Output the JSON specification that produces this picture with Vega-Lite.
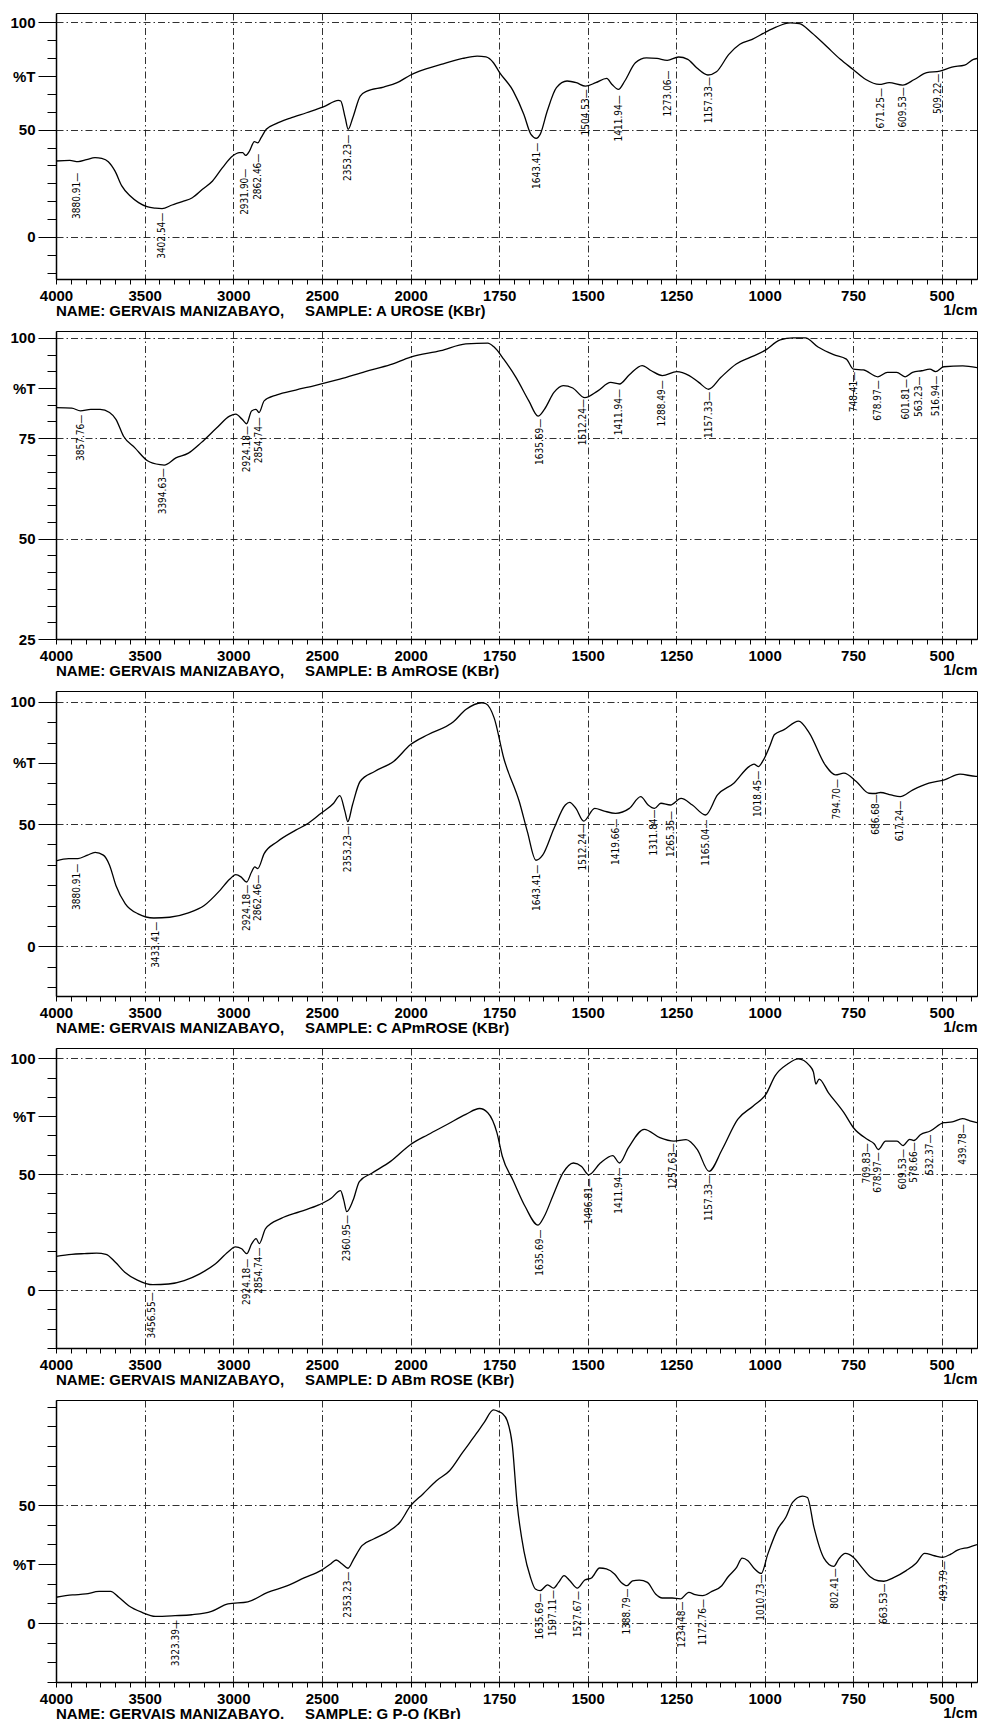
{
"$schema": "https://vega.github.io/schema/vega-lite/v6.json",
"padding": {"left": 9, "top": 12, "right": 0, "bottom": 0},
"background": "white",
"spacing": 52,
"bounds": "flush",
"config": {
 "view": {"stroke": "#000", "strokeWidth": 1},
 "axis": {"domainColor": "#000", "domainWidth": 1.5, "tickColor": "#000", "tickWidth": 1, "labelColor": "#000", "labelFont": "Liberation Sans", "labelFontSize": 15, "labelFontWeight": "bold", "titleFont": "Liberation Sans", "titleFontSize": 15, "titleFontWeight": "bold", "titleColor": "#000", "gridColor": "#1a1a1a", "gridDash": [7,3,1.5,3], "gridWidth": 0.9, "labelOverlap": false, "labelFlush": false, "labelBound": false}
},
"datasets": {
"spectra": [
{"p":1,"wn":4000,"t":35.4},{"p":1,"wn":3922,"t":35.7},{"p":1,"wn":3875,"t":35.1},{"p":1,"wn":3828,"t":36},{"p":1,"wn":3780,"t":37},{"p":1,"wn":3742,"t":36.6},{"p":1,"wn":3705,"t":35.1},{"p":1,"wn":3667,"t":30.7},{"p":1,"wn":3629,"t":23.8},{"p":1,"wn":3581,"t":19.1},{"p":1,"wn":3534,"t":16},{"p":1,"wn":3487,"t":14.1},{"p":1,"wn":3439,"t":13.4},{"p":1,"wn":3402,"t":13.2},{"p":1,"wn":3345,"t":14.9},{"p":1,"wn":3288,"t":16.5},{"p":1,"wn":3231,"t":18.3},{"p":1,"wn":3174,"t":22.2},{"p":1,"wn":3117,"t":26.1},{"p":1,"wn":3061,"t":32.3},{"p":1,"wn":3004,"t":37.7},{"p":1,"wn":2966,"t":39.3},{"p":1,"wn":2947,"t":39.3},{"p":1,"wn":2930,"t":38},{"p":1,"wn":2909,"t":40},{"p":1,"wn":2881,"t":44.4},{"p":1,"wn":2862,"t":43.9},{"p":1,"wn":2843,"t":46.3},{"p":1,"wn":2814,"t":50.2},{"p":1,"wn":2758,"t":52.8},{"p":1,"wn":2682,"t":55.3},{"p":1,"wn":2587,"t":57.9},{"p":1,"wn":2492,"t":60.6},{"p":1,"wn":2407,"t":63.7},{"p":1,"wn":2394,"t":63.4},{"p":1,"wn":2369,"t":55.6},{"p":1,"wn":2352,"t":50.2},{"p":1,"wn":2326,"t":55.6},{"p":1,"wn":2284,"t":65.7},{"p":1,"wn":2246,"t":68},{"p":1,"wn":2152,"t":69.9},{"p":1,"wn":2076,"t":71.9},{"p":1,"wn":2000,"t":75.5},{"p":1,"wn":1975,"t":77.3},{"p":1,"wn":1914,"t":80.4},{"p":1,"wn":1853,"t":83.2},{"p":1,"wn":1812,"t":84.3},{"p":1,"wn":1787,"t":83.9},{"p":1,"wn":1766,"t":81.2},{"p":1,"wn":1750,"t":77},{"p":1,"wn":1710,"t":68},{"p":1,"wn":1680,"t":57.1},{"p":1,"wn":1660,"t":47.8},{"p":1,"wn":1645,"t":46},{"p":1,"wn":1634,"t":47.8},{"p":1,"wn":1614,"t":58.7},{"p":1,"wn":1588,"t":69.6},{"p":1,"wn":1558,"t":72.7},{"p":1,"wn":1532,"t":71.9},{"p":1,"wn":1506,"t":70.3},{"p":1,"wn":1477,"t":71.9},{"p":1,"wn":1446,"t":73.9},{"p":1,"wn":1431,"t":71.1},{"p":1,"wn":1413,"t":68.8},{"p":1,"wn":1395,"t":72.7},{"p":1,"wn":1365,"t":81.2},{"p":1,"wn":1334,"t":83.5},{"p":1,"wn":1304,"t":83.2},{"p":1,"wn":1275,"t":82.3},{"p":1,"wn":1243,"t":83.9},{"p":1,"wn":1217,"t":82.8},{"p":1,"wn":1192,"t":78.9},{"p":1,"wn":1160,"t":75.5},{"p":1,"wn":1136,"t":77},{"p":1,"wn":1101,"t":85.1},{"p":1,"wn":1070,"t":89.8},{"p":1,"wn":1035,"t":92.1},{"p":1,"wn":1000,"t":95.2},{"p":1,"wn":968,"t":97.8},{"p":1,"wn":928,"t":99.8},{"p":1,"wn":902,"t":99.4},{"p":1,"wn":867,"t":95.2},{"p":1,"wn":826,"t":89},{"p":1,"wn":786,"t":82.8},{"p":1,"wn":750,"t":78.1},{"p":1,"wn":714,"t":73.4},{"p":1,"wn":676,"t":71.1},{"p":1,"wn":648,"t":71.9},{"p":1,"wn":610,"t":70.8},{"p":1,"wn":577,"t":73.4},{"p":1,"wn":542,"t":76.6},{"p":1,"wn":505,"t":77.3},{"p":1,"wn":471,"t":79.2},{"p":1,"wn":435,"t":80.1},{"p":1,"wn":410,"t":82.8},{"p":1,"wn":400,"t":83.2},
{"p":2,"wn":4000,"t":82.6},{"p":2,"wn":3911,"t":82.5},{"p":2,"wn":3862,"t":81.8},{"p":2,"wn":3804,"t":82.2},{"p":2,"wn":3751,"t":82.2},{"p":2,"wn":3698,"t":81.4},{"p":2,"wn":3662,"t":79.7},{"p":2,"wn":3619,"t":75.5},{"p":2,"wn":3555,"t":72.6},{"p":2,"wn":3484,"t":69.4},{"p":2,"wn":3413,"t":68.4},{"p":2,"wn":3390,"t":68.3},{"p":2,"wn":3324,"t":70.1},{"p":2,"wn":3253,"t":71.3},{"p":2,"wn":3181,"t":73.9},{"p":2,"wn":3093,"t":77.6},{"p":2,"wn":3021,"t":80.5},{"p":2,"wn":2986,"t":81},{"p":2,"wn":2950,"t":79.7},{"p":2,"wn":2925,"t":78.6},{"p":2,"wn":2897,"t":81.8},{"p":2,"wn":2872,"t":82.2},{"p":2,"wn":2855,"t":81.4},{"p":2,"wn":2826,"t":84.3},{"p":2,"wn":2754,"t":85.8},{"p":2,"wn":2648,"t":87},{"p":2,"wn":2541,"t":88.1},{"p":2,"wn":2399,"t":89.7},{"p":2,"wn":2256,"t":91.6},{"p":2,"wn":2114,"t":93.3},{"p":2,"wn":2000,"t":95.2},{"p":2,"wn":1915,"t":96.8},{"p":2,"wn":1844,"t":98.5},{"p":2,"wn":1782,"t":98.7},{"p":2,"wn":1764,"t":97.7},{"p":2,"wn":1737,"t":94.7},{"p":2,"wn":1702,"t":90.1},{"p":2,"wn":1666,"t":84.3},{"p":2,"wn":1640,"t":80.5},{"p":2,"wn":1622,"t":82.2},{"p":2,"wn":1595,"t":86.4},{"p":2,"wn":1569,"t":88.1},{"p":2,"wn":1542,"t":87.5},{"p":2,"wn":1508,"t":85.1},{"p":2,"wn":1471,"t":86.8},{"p":2,"wn":1435,"t":88.9},{"p":2,"wn":1410,"t":88.5},{"p":2,"wn":1382,"t":90.8},{"p":2,"wn":1346,"t":93.1},{"p":2,"wn":1320,"t":91.8},{"p":2,"wn":1289,"t":90.6},{"p":2,"wn":1248,"t":91.6},{"p":2,"wn":1213,"t":90.6},{"p":2,"wn":1186,"t":88.9},{"p":2,"wn":1158,"t":87.2},{"p":2,"wn":1124,"t":90.1},{"p":2,"wn":1080,"t":93.5},{"p":2,"wn":1044,"t":95},{"p":2,"wn":1000,"t":96.8},{"p":2,"wn":956,"t":99.5},{"p":2,"wn":920,"t":100},{"p":2,"wn":885,"t":100},{"p":2,"wn":849,"t":97.7},{"p":2,"wn":805,"t":95.8},{"p":2,"wn":769,"t":94.7},{"p":2,"wn":749,"t":92.2},{"p":2,"wn":721,"t":92},{"p":2,"wn":680,"t":90.3},{"p":2,"wn":653,"t":91.4},{"p":2,"wn":627,"t":91.4},{"p":2,"wn":603,"t":90.3},{"p":2,"wn":582,"t":91.4},{"p":2,"wn":556,"t":91.8},{"p":2,"wn":533,"t":92.2},{"p":2,"wn":517,"t":91.6},{"p":2,"wn":494,"t":92.8},{"p":2,"wn":440,"t":93},{"p":2,"wn":400,"t":92.6},
{"p":3,"wn":4000,"t":34.9},{"p":3,"wn":3929,"t":35.9},{"p":3,"wn":3876,"t":35.9},{"p":3,"wn":3822,"t":37.3},{"p":3,"wn":3779,"t":38.4},{"p":3,"wn":3733,"t":37.3},{"p":3,"wn":3698,"t":33.2},{"p":3,"wn":3662,"t":24.9},{"p":3,"wn":3609,"t":17.4},{"p":3,"wn":3537,"t":13.3},{"p":3,"wn":3448,"t":11.6},{"p":3,"wn":3359,"t":11.9},{"p":3,"wn":3253,"t":13.7},{"p":3,"wn":3164,"t":16.7},{"p":3,"wn":3075,"t":22.9},{"p":3,"wn":3021,"t":27.4},{"p":3,"wn":2986,"t":29.3},{"p":3,"wn":2957,"t":28.4},{"p":3,"wn":2925,"t":26.3},{"p":3,"wn":2897,"t":30.4},{"p":3,"wn":2879,"t":32.5},{"p":3,"wn":2862,"t":31.8},{"p":3,"wn":2826,"t":37.9},{"p":3,"wn":2754,"t":42.7},{"p":3,"wn":2648,"t":47.5},{"p":3,"wn":2577,"t":50.3},{"p":3,"wn":2505,"t":54.4},{"p":3,"wn":2434,"t":58.5},{"p":3,"wn":2399,"t":61.6},{"p":3,"wn":2370,"t":55.1},{"p":3,"wn":2354,"t":51},{"p":3,"wn":2328,"t":57.8},{"p":3,"wn":2285,"t":67.4},{"p":3,"wn":2203,"t":71.5},{"p":3,"wn":2096,"t":75.6},{"p":3,"wn":2000,"t":82.5},{"p":3,"wn":1950,"t":86.6},{"p":3,"wn":1879,"t":91.8},{"p":3,"wn":1844,"t":96.8},{"p":3,"wn":1799,"t":99.6},{"p":3,"wn":1787,"t":99.2},{"p":3,"wn":1764,"t":93.4},{"p":3,"wn":1737,"t":77},{"p":3,"wn":1693,"t":59.2},{"p":3,"wn":1670,"t":46.8},{"p":3,"wn":1646,"t":35.2},{"p":3,"wn":1627,"t":37.3},{"p":3,"wn":1595,"t":48.2},{"p":3,"wn":1563,"t":57.8},{"p":3,"wn":1551,"t":58.9},{"p":3,"wn":1533,"t":56.4},{"p":3,"wn":1511,"t":51.2},{"p":3,"wn":1480,"t":56.4},{"p":3,"wn":1453,"t":55.3},{"p":3,"wn":1421,"t":54.4},{"p":3,"wn":1382,"t":56.4},{"p":3,"wn":1350,"t":61.2},{"p":3,"wn":1329,"t":57.8},{"p":3,"wn":1311,"t":56.4},{"p":3,"wn":1293,"t":58.5},{"p":3,"wn":1266,"t":57.8},{"p":3,"wn":1236,"t":60.5},{"p":3,"wn":1204,"t":57.8},{"p":3,"wn":1167,"t":53.7},{"p":3,"wn":1133,"t":61.9},{"p":3,"wn":1087,"t":66.7},{"p":3,"wn":1043,"t":73.6},{"p":3,"wn":1030,"t":74.5},{"p":3,"wn":1018,"t":73.5},{"p":3,"wn":1004,"t":76},{"p":3,"wn":985,"t":82},{"p":3,"wn":972,"t":86.6},{"p":3,"wn":945,"t":88.6},{"p":3,"wn":904,"t":92.1},{"p":3,"wn":874,"t":87.3},{"p":3,"wn":829,"t":74.2},{"p":3,"wn":800,"t":70.1},{"p":3,"wn":776,"t":70.8},{"p":3,"wn":741,"t":67.4},{"p":3,"wn":705,"t":62.6},{"p":3,"wn":686,"t":62.5},{"p":3,"wn":673,"t":62.9},{"p":3,"wn":643,"t":61.9},{"p":3,"wn":617,"t":61.2},{"p":3,"wn":581,"t":64},{"p":3,"wn":536,"t":66.7},{"p":3,"wn":492,"t":68.1},{"p":3,"wn":448,"t":70.4},{"p":3,"wn":403,"t":69.5},{"p":3,"wn":400,"t":69.5},
{"p":4,"wn":4000,"t":14.5},{"p":4,"wn":3912,"t":15.4},{"p":4,"wn":3841,"t":15.7},{"p":4,"wn":3771,"t":15.9},{"p":4,"wn":3718,"t":15.4},{"p":4,"wn":3665,"t":12},{"p":4,"wn":3612,"t":7.7},{"p":4,"wn":3541,"t":4.3},{"p":4,"wn":3453,"t":2.3},{"p":4,"wn":3365,"t":2.6},{"p":4,"wn":3277,"t":4.1},{"p":4,"wn":3189,"t":7},{"p":4,"wn":3100,"t":11.3},{"p":4,"wn":3030,"t":16.4},{"p":4,"wn":2988,"t":18.6},{"p":4,"wn":2953,"t":17.8},{"p":4,"wn":2924,"t":15.7},{"p":4,"wn":2896,"t":20},{"p":4,"wn":2871,"t":22.2},{"p":4,"wn":2854,"t":20},{"p":4,"wn":2818,"t":26.5},{"p":4,"wn":2730,"t":30.9},{"p":4,"wn":2624,"t":33.8},{"p":4,"wn":2518,"t":36.7},{"p":4,"wn":2448,"t":39.6},{"p":4,"wn":2395,"t":42.9},{"p":4,"wn":2377,"t":38.8},{"p":4,"wn":2360,"t":33.8},{"p":4,"wn":2324,"t":38.8},{"p":4,"wn":2289,"t":46.8},{"p":4,"wn":2219,"t":50.4},{"p":4,"wn":2113,"t":55.5},{"p":4,"wn":2000,"t":62.8},{"p":4,"wn":1950,"t":67.1},{"p":4,"wn":1897,"t":71.4},{"p":4,"wn":1844,"t":75.8},{"p":4,"wn":1805,"t":78.3},{"p":4,"wn":1782,"t":76.5},{"p":4,"wn":1756,"t":67.8},{"p":4,"wn":1741,"t":57.7},{"p":4,"wn":1711,"t":47.5},{"p":4,"wn":1676,"t":35.9},{"p":4,"wn":1640,"t":28},{"p":4,"wn":1623,"t":31.6},{"p":4,"wn":1597,"t":41},{"p":4,"wn":1570,"t":50.4},{"p":4,"wn":1540,"t":54.8},{"p":4,"wn":1517,"t":53.3},{"p":4,"wn":1497,"t":49.7},{"p":4,"wn":1464,"t":54.8},{"p":4,"wn":1429,"t":58},{"p":4,"wn":1410,"t":54.8},{"p":4,"wn":1385,"t":61.3},{"p":4,"wn":1340,"t":69.3},{"p":4,"wn":1296,"t":65.7},{"p":4,"wn":1256,"t":64.2},{"p":4,"wn":1222,"t":64.9},{"p":4,"wn":1190,"t":60.6},{"p":4,"wn":1157,"t":51.2},{"p":4,"wn":1120,"t":60.6},{"p":4,"wn":1076,"t":73.6},{"p":4,"wn":1032,"t":79.4},{"p":4,"wn":996,"t":84.5},{"p":4,"wn":970,"t":92.5},{"p":4,"wn":935,"t":97.5},{"p":4,"wn":905,"t":99.7},{"p":4,"wn":873,"t":96.8},{"p":4,"wn":862,"t":94},{"p":4,"wn":855,"t":88.8},{"p":4,"wn":846,"t":91},{"p":4,"wn":820,"t":85.2},{"p":4,"wn":776,"t":76.5},{"p":4,"wn":749,"t":70},{"p":4,"wn":709,"t":64.9},{"p":4,"wn":690,"t":63},{"p":4,"wn":679,"t":60.6},{"p":4,"wn":658,"t":64.2},{"p":4,"wn":626,"t":64.2},{"p":4,"wn":609,"t":62.3},{"p":4,"wn":590,"t":65},{"p":4,"wn":578,"t":64.5},{"p":4,"wn":560,"t":67},{"p":4,"wn":532,"t":68.6},{"p":4,"wn":494,"t":72.2},{"p":4,"wn":470,"t":72.5},{"p":4,"wn":441,"t":73.9},{"p":4,"wn":420,"t":73},{"p":4,"wn":400,"t":72.2},
{"p":5,"wn":4000,"t":10.9},{"p":5,"wn":3907,"t":11.9},{"p":5,"wn":3832,"t":12.3},{"p":5,"wn":3757,"t":13.4},{"p":5,"wn":3692,"t":13.4},{"p":5,"wn":3646,"t":10.9},{"p":5,"wn":3590,"t":7.3},{"p":5,"wn":3515,"t":4.5},{"p":5,"wn":3440,"t":2.8},{"p":5,"wn":3328,"t":3.1},{"p":5,"wn":3235,"t":3.5},{"p":5,"wn":3123,"t":4.9},{"p":5,"wn":3030,"t":8.1},{"p":5,"wn":2918,"t":9},{"p":5,"wn":2806,"t":13},{"p":5,"wn":2694,"t":15.8},{"p":5,"wn":2601,"t":19.1},{"p":5,"wn":2507,"t":22.2},{"p":5,"wn":2451,"t":25},{"p":5,"wn":2420,"t":26.7},{"p":5,"wn":2386,"t":25},{"p":5,"wn":2353,"t":23.2},{"p":5,"wn":2321,"t":27.1},{"p":5,"wn":2274,"t":32.8},{"p":5,"wn":2209,"t":35.6},{"p":5,"wn":2134,"t":38.4},{"p":5,"wn":2060,"t":42.7},{"p":5,"wn":2000,"t":49.7},{"p":5,"wn":1965,"t":54.7},{"p":5,"wn":1927,"t":60.3},{"p":5,"wn":1890,"t":64.5},{"p":5,"wn":1853,"t":72.3},{"p":5,"wn":1815,"t":80.1},{"p":5,"wn":1792,"t":85},{"p":5,"wn":1766,"t":90.3},{"p":5,"wn":1750,"t":89.5},{"p":5,"wn":1741,"t":88.8},{"p":5,"wn":1727,"t":85.7},{"p":5,"wn":1713,"t":75.8},{"p":5,"wn":1699,"t":50.4},{"p":5,"wn":1680,"t":30.6},{"p":5,"wn":1661.5,"t":19.4},{"p":5,"wn":1647.5,"t":14.4},{"p":5,"wn":1634,"t":13.7},{"p":5,"wn":1613,"t":16.2},{"p":5,"wn":1596,"t":14.8},{"p":5,"wn":1582,"t":17.2},{"p":5,"wn":1566.5,"t":20.1},{"p":5,"wn":1550,"t":17.9},{"p":5,"wn":1529,"t":14.8},{"p":5,"wn":1508,"t":18.2},{"p":5,"wn":1489,"t":19.1},{"p":5,"wn":1466,"t":23.3},{"p":5,"wn":1447,"t":22.9},{"p":5,"wn":1424,"t":20.8},{"p":5,"wn":1405,"t":17.2},{"p":5,"wn":1389,"t":15.8},{"p":5,"wn":1373,"t":17.9},{"p":5,"wn":1354,"t":18.2},{"p":5,"wn":1331,"t":17.2},{"p":5,"wn":1308,"t":12.3},{"p":5,"wn":1289,"t":10.6},{"p":5,"wn":1261,"t":10.6},{"p":5,"wn":1238,"t":10.2},{"p":5,"wn":1214,"t":13},{"p":5,"wn":1196,"t":12},{"p":5,"wn":1175,"t":11.6},{"p":5,"wn":1149,"t":13.4},{"p":5,"wn":1121,"t":15.8},{"p":5,"wn":1103,"t":19.6},{"p":5,"wn":1079,"t":23.6},{"p":5,"wn":1063.5,"t":27.5},{"p":5,"wn":1047,"t":26.4},{"p":5,"wn":1028,"t":22.9},{"p":5,"wn":1009.5,"t":21},{"p":5,"wn":991,"t":29.2},{"p":5,"wn":963,"t":39.8},{"p":5,"wn":940,"t":44.8},{"p":5,"wn":921,"t":51.1},{"p":5,"wn":893,"t":53.8},{"p":5,"wn":879,"t":53.2},{"p":5,"wn":860.5,"t":40.5},{"p":5,"wn":832.5,"t":27.5},{"p":5,"wn":804.6,"t":24},{"p":5,"wn":790.6,"t":27.1},{"p":5,"wn":772,"t":29.5},{"p":5,"wn":748.7,"t":27.8},{"p":5,"wn":725.4,"t":23.6},{"p":5,"wn":702,"t":19.6},{"p":5,"wn":679,"t":17.9},{"p":5,"wn":663,"t":17.7},{"p":5,"wn":637,"t":19.1},{"p":5,"wn":600,"t":22.2},{"p":5,"wn":572,"t":25.3},{"p":5,"wn":548,"t":29.5},{"p":5,"wn":520.5,"t":28.5},{"p":5,"wn":497,"t":27.8},{"p":5,"wn":474,"t":29.2},{"p":5,"wn":455,"t":30.9},{"p":5,"wn":423,"t":32.1},{"p":5,"wn":400,"t":33.2}
],
"peaks": [
{"p":1,"wn":3880.91,"t":30.4,"label":"3880.91"},{"p":1,"wn":3402.54,"t":11.8,"label":"3402.54"},{"p":1,"wn":2931.90,"t":32.3,"label":"2931.90"},{"p":1,"wn":2862.46,"t":39.3,"label":"2862.46"},{"p":1,"wn":2353.23,"t":48.1,"label":"2353.23"},{"p":1,"wn":1643.41,"t":44.4,"label":"1643.41"},{"p":1,"wn":1504.53,"t":69.3,"label":"1504.53"},{"p":1,"wn":1411.94,"t":66.5,"label":"1411.94"},{"p":1,"wn":1273.06,"t":78.1,"label":"1273.06"},{"p":1,"wn":1157.33,"t":75,"label":"1157.33"},{"p":1,"wn":671.25,"t":69.9,"label":"671.25"},{"p":1,"wn":609.53,"t":70.3,"label":"609.53"},{"p":1,"wn":509.22,"t":76.6,"label":"509.22"},
{"p":2,"wn":3857.76,"t":81.1,"label":"3857.76"},{"p":2,"wn":3394.63,"t":67.8,"label":"3394.63"},{"p":2,"wn":2924.18,"t":78.3,"label":"2924.18"},{"p":2,"wn":2854.74,"t":80.5,"label":"2854.74"},{"p":2,"wn":1635.69,"t":80.1,"label":"1635.69"},{"p":2,"wn":1512.24,"t":85,"label":"1512.24"},{"p":2,"wn":1411.94,"t":87.5,"label":"1411.94"},{"p":2,"wn":1288.49,"t":89.7,"label":"1288.49"},{"p":2,"wn":1157.33,"t":86.8,"label":"1157.33"},{"p":2,"wn":748.41,"t":91.8,"label":"748.41"},{"p":2,"wn":678.97,"t":89.7,"label":"678.97"},{"p":2,"wn":601.81,"t":90,"label":"601.81"},{"p":2,"wn":563.23,"t":90.6,"label":"563.23"},{"p":2,"wn":516.94,"t":90.8,"label":"516.94"},
{"p":3,"wn":3880.91,"t":34.2,"label":"3880.91"},{"p":3,"wn":3433.41,"t":10.5,"label":"3433.41"},{"p":3,"wn":2924.18,"t":25.6,"label":"2924.18"},{"p":3,"wn":2862.46,"t":29.7,"label":"2862.46"},{"p":3,"wn":2353.23,"t":49.6,"label":"2353.23"},{"p":3,"wn":1643.41,"t":33.8,"label":"1643.41"},{"p":3,"wn":1512.24,"t":50.3,"label":"1512.24"},{"p":3,"wn":1419.66,"t":52.6,"label":"1419.66"},{"p":3,"wn":1311.84,"t":56.4,"label":"1311.84"},{"p":3,"wn":1265.35,"t":55.8,"label":"1265.35"},{"p":3,"wn":1165.04,"t":52.3,"label":"1165.04"},{"p":3,"wn":1018.45,"t":72.2,"label":"1018.45"},{"p":3,"wn":794.70,"t":68.8,"label":"794.70"},{"p":3,"wn":686.68,"t":62.6,"label":"686.68"},{"p":3,"wn":617.24,"t":59.9,"label":"617.24"},
{"p":4,"wn":3456.55,"t":-0.5,"label":"3456.55"},{"p":4,"wn":2924.18,"t":13.9,"label":"2924.18"},{"p":4,"wn":2854.74,"t":18.8,"label":"2854.74"},{"p":4,"wn":2360.95,"t":32.8,"label":"2360.95"},{"p":4,"wn":1635.69,"t":26.5,"label":"1635.69"},{"p":4,"wn":1496.81,"t":48.7,"label":"1496.81"},{"p":4,"wn":1411.94,"t":53.3,"label":"1411.94"},{"p":4,"wn":1257.63,"t":63.8,"label":"1257.63"},{"p":4,"wn":1157.33,"t":50.1,"label":"1157.33"},{"p":4,"wn":709.83,"t":63.8,"label":"709.83"},{"p":4,"wn":678.97,"t":59.9,"label":"678.97"},{"p":4,"wn":609.53,"t":61.3,"label":"609.53"},{"p":4,"wn":578.66,"t":64.2,"label":"578.66"},{"p":4,"wn":532.37,"t":67.5,"label":"532.37"},{"p":4,"wn":439.78,"t":71.9,"label":"439.78"},
{"p":5,"wn":3323.39,"t":1.7,"label":"3323.39"},{"p":5,"wn":2353.23,"t":22.2,"label":"2353.23"},{"p":5,"wn":1635.69,"t":13,"label":"1635.69"},{"p":5,"wn":1597.11,"t":14.4,"label":"1597.11"},{"p":5,"wn":1527.67,"t":14,"label":"1527.67"},{"p":5,"wn":1388.79,"t":15.1,"label":"1388.79"},{"p":5,"wn":1234.48,"t":9.5,"label":"1234.48"},{"p":5,"wn":1172.76,"t":10.6,"label":"1172.76"},{"p":5,"wn":1010.73,"t":21,"label":"1010.73"},{"p":5,"wn":802.41,"t":23.6,"label":"802.41"},{"p":5,"wn":663.53,"t":17.2,"label":"663.53"},{"p":5,"wn":493.79,"t":26.7,"label":"493.79"}
]
},
"vconcat": [
{
"width": 921, "height": 266,
"title": {"text": "NAME: GERVAIS MANIZABAYO,\u00a0\u00a0\u00a0\u00a0\u00a0SAMPLE: A UROSE (KBr)", "orient": "bottom", "anchor": "start", "frame": "group", "offset": -1, "baseline": "alphabetic", "font": "Liberation Sans", "fontSize": 15, "fontWeight": "bold", "color": "#000"},
"encoding": {
 "x": {"field": "wn", "type": "quantitative", "scale": {"domain": [4000, 2000, 400], "range": [0, 354.6, 921], "nice": false, "zero": false},
  "axis": {"values": [4000,3916.667,3833.333,3750,3666.667,3583.333,3500,3416.667,3333.333,3250,3166.667,3083.333,3000,2916.667,2833.333,2750,2666.667,2583.333,2500,2416.667,2333.333,2250,2166.667,2083.333,2000,1958.333,1916.667,1875,1833.333,1791.667,1750,1708.333,1666.667,1625,1583.333,1541.667,1500,1458.333,1416.667,1375,1333.333,1291.667,1250,1208.333,1166.667,1125,1083.333,1041.667,1000,958.333,916.667,875,833.333,791.667,750,708.333,666.667,625,583.333,541.667,500,458.333,416.667], "format": "d", "labelExpr": "indexof([4000,3500,3000,2500,2000,1750,1500,1250,1000,750,500], datum.value) >= 0 ? datum.label : ''", "grid": true, "gridOpacity": {"condition": {"test": "indexof([3500,3000,2500,2000,1750,1500,1250,1000,750,500], datum.value) >= 0", "value": 1}, "value": 0}, "tickSize": 5, "labelPadding": 4, "title": "1/cm", "titleAnchor": "end", "titlePadding": -1}},
 "y": {"field": "t", "type": "quantitative", "scale": {"domain": [-19.6, 104.4], "nice": false, "zero": false},
  "axis": {"values": [-16.6667,-8.3333,0,8.3333,16.6667,25,33.3333,41.6667,50,58.3333,66.6667,75,83.3333,91.6667,100], "labelExpr": "datum.value == 75 ? '%T' : (datum.value == 0 || datum.value == 50 || datum.value == 100) ? datum.label : ''", "grid": true, "gridOpacity": {"condition": {"test": "datum.value == 0 || datum.value == 50 || datum.value == 100", "value": 1}, "value": 0}, "tickSize": {"condition": {"test": "datum.value == 0 || datum.value == 50 || datum.value == 100 || datum.value == 75", "value": 18}, "value": 9}, "labelPadding": 3, "title": null}}
},
"layer": [
 {"data": {"name": "spectra"}, "transform": [{"filter": "datum.p == 1"}], "mark": {"type": "line", "color": "#000", "strokeWidth": 1.3, "interpolate": "monotone", "clip": true}},
 {"data": {"name": "peaks"}, "transform": [{"filter": "datum.p == 1"}], "mark": {"type": "text", "angle": 270, "align": "right", "baseline": "middle", "dx": -1, "font": "DejaVu Sans Condensed, Liberation Sans Narrow, Liberation Sans", "fontSize": 10, "color": "#000", "text": {"expr": "datum.label + '—'"}}}
]
},
{
"width": 921, "height": 308,
"title": {"text": "NAME: GERVAIS MANIZABAYO,\u00a0\u00a0\u00a0\u00a0\u00a0SAMPLE: B AmROSE (KBr)", "orient": "bottom", "anchor": "start", "frame": "group", "offset": -1, "baseline": "alphabetic", "font": "Liberation Sans", "fontSize": 15, "fontWeight": "bold", "color": "#000"},
"encoding": {
 "x": {"field": "wn", "type": "quantitative", "scale": {"domain": [4000, 2000, 400], "range": [0, 354.6, 921], "nice": false, "zero": false},
  "axis": {"values": [4000,3916.667,3833.333,3750,3666.667,3583.333,3500,3416.667,3333.333,3250,3166.667,3083.333,3000,2916.667,2833.333,2750,2666.667,2583.333,2500,2416.667,2333.333,2250,2166.667,2083.333,2000,1958.333,1916.667,1875,1833.333,1791.667,1750,1708.333,1666.667,1625,1583.333,1541.667,1500,1458.333,1416.667,1375,1333.333,1291.667,1250,1208.333,1166.667,1125,1083.333,1041.667,1000,958.333,916.667,875,833.333,791.667,750,708.333,666.667,625,583.333,541.667,500,458.333,416.667], "format": "d", "labelExpr": "indexof([4000,3500,3000,2500,2000,1750,1500,1250,1000,750,500], datum.value) >= 0 ? datum.label : ''", "grid": true, "gridOpacity": {"condition": {"test": "indexof([3500,3000,2500,2000,1750,1500,1250,1000,750,500], datum.value) >= 0", "value": 1}, "value": 0}, "tickSize": 5, "labelPadding": 4, "title": "1/cm", "titleAnchor": "end", "titlePadding": -1}},
 "y": {"field": "t", "type": "quantitative", "scale": {"domain": [25, 101.7], "nice": false, "zero": false},
  "axis": {"values": [25,29.1667,33.3333,37.5,41.6667,45.8333,50,54.1667,58.3333,62.5,66.6667,70.8333,75,79.1667,83.3333,87.5,91.6667,95.8333,100], "labelExpr": "datum.value == 87.5 ? '%T' : (datum.value == 25 || datum.value == 50 || datum.value == 75 || datum.value == 100) ? datum.label : ''", "grid": true, "gridOpacity": {"condition": {"test": "datum.value == 50 || datum.value == 75 || datum.value == 100", "value": 1}, "value": 0}, "tickSize": {"condition": {"test": "datum.value == 25 || datum.value == 50 || datum.value == 75 || datum.value == 100 || datum.value == 87.5", "value": 18}, "value": 9}, "labelPadding": 3, "title": null}}
},
"layer": [
 {"data": {"name": "spectra"}, "transform": [{"filter": "datum.p == 2"}], "mark": {"type": "line", "color": "#000", "strokeWidth": 1.3, "interpolate": "monotone", "clip": true}},
 {"data": {"name": "peaks"}, "transform": [{"filter": "datum.p == 2"}], "mark": {"type": "text", "angle": 270, "align": "right", "baseline": "middle", "dx": -1, "font": "DejaVu Sans Condensed, Liberation Sans Narrow, Liberation Sans", "fontSize": 10, "color": "#000", "text": {"expr": "datum.label + '—'"}}}
]
},
{
"width": 921, "height": 305,
"title": {"text": "NAME: GERVAIS MANIZABAYO,\u00a0\u00a0\u00a0\u00a0\u00a0SAMPLE: C APmROSE (KBr)", "orient": "bottom", "anchor": "start", "frame": "group", "offset": -1, "baseline": "alphabetic", "font": "Liberation Sans", "fontSize": 15, "fontWeight": "bold", "color": "#000"},
"encoding": {
 "x": {"field": "wn", "type": "quantitative", "scale": {"domain": [4000, 2000, 400], "range": [0, 354.6, 921], "nice": false, "zero": false},
  "axis": {"values": [4000,3916.667,3833.333,3750,3666.667,3583.333,3500,3416.667,3333.333,3250,3166.667,3083.333,3000,2916.667,2833.333,2750,2666.667,2583.333,2500,2416.667,2333.333,2250,2166.667,2083.333,2000,1958.333,1916.667,1875,1833.333,1791.667,1750,1708.333,1666.667,1625,1583.333,1541.667,1500,1458.333,1416.667,1375,1333.333,1291.667,1250,1208.333,1166.667,1125,1083.333,1041.667,1000,958.333,916.667,875,833.333,791.667,750,708.333,666.667,625,583.333,541.667,500,458.333,416.667], "format": "d", "labelExpr": "indexof([4000,3500,3000,2500,2000,1750,1500,1250,1000,750,500], datum.value) >= 0 ? datum.label : ''", "grid": true, "gridOpacity": {"condition": {"test": "indexof([3500,3000,2500,2000,1750,1500,1250,1000,750,500], datum.value) >= 0", "value": 1}, "value": 0}, "tickSize": 5, "labelPadding": 4, "title": "1/cm", "titleAnchor": "end", "titlePadding": -1}},
 "y": {"field": "t", "type": "quantitative", "scale": {"domain": [-20.3, 104.4], "nice": false, "zero": false},
  "axis": {"values": [-16.6667,-8.3333,0,8.3333,16.6667,25,33.3333,41.6667,50,58.3333,66.6667,75,83.3333,91.6667,100], "labelExpr": "datum.value == 75 ? '%T' : (datum.value == 0 || datum.value == 50 || datum.value == 100) ? datum.label : ''", "grid": true, "gridOpacity": {"condition": {"test": "datum.value == 0 || datum.value == 50 || datum.value == 100", "value": 1}, "value": 0}, "tickSize": {"condition": {"test": "datum.value == 0 || datum.value == 50 || datum.value == 100 || datum.value == 75", "value": 18}, "value": 9}, "labelPadding": 3, "title": null}}
},
"layer": [
 {"data": {"name": "spectra"}, "transform": [{"filter": "datum.p == 3"}], "mark": {"type": "line", "color": "#000", "strokeWidth": 1.3, "interpolate": "monotone", "clip": true}},
 {"data": {"name": "peaks"}, "transform": [{"filter": "datum.p == 3"}], "mark": {"type": "text", "angle": 270, "align": "right", "baseline": "middle", "dx": -1, "font": "DejaVu Sans Condensed, Liberation Sans Narrow, Liberation Sans", "fontSize": 10, "color": "#000", "text": {"expr": "datum.label + '—'"}}}
]
},
{
"width": 921, "height": 300,
"title": {"text": "NAME: GERVAIS MANIZABAYO,\u00a0\u00a0\u00a0\u00a0\u00a0SAMPLE: D ABm ROSE (KBr)", "orient": "bottom", "anchor": "start", "frame": "group", "offset": -1, "baseline": "alphabetic", "font": "Liberation Sans", "fontSize": 15, "fontWeight": "bold", "color": "#000"},
"encoding": {
 "x": {"field": "wn", "type": "quantitative", "scale": {"domain": [4000, 2000, 400], "range": [0, 354.6, 921], "nice": false, "zero": false},
  "axis": {"values": [4000,3916.667,3833.333,3750,3666.667,3583.333,3500,3416.667,3333.333,3250,3166.667,3083.333,3000,2916.667,2833.333,2750,2666.667,2583.333,2500,2416.667,2333.333,2250,2166.667,2083.333,2000,1958.333,1916.667,1875,1833.333,1791.667,1750,1708.333,1666.667,1625,1583.333,1541.667,1500,1458.333,1416.667,1375,1333.333,1291.667,1250,1208.333,1166.667,1125,1083.333,1041.667,1000,958.333,916.667,875,833.333,791.667,750,708.333,666.667,625,583.333,541.667,500,458.333,416.667], "format": "d", "labelExpr": "indexof([4000,3500,3000,2500,2000,1750,1500,1250,1000,750,500], datum.value) >= 0 ? datum.label : ''", "grid": true, "gridOpacity": {"condition": {"test": "indexof([3500,3000,2500,2000,1750,1500,1250,1000,750,500], datum.value) >= 0", "value": 1}, "value": 0}, "tickSize": 5, "labelPadding": 4, "title": "1/cm", "titleAnchor": "end", "titlePadding": -1}},
 "y": {"field": "t", "type": "quantitative", "scale": {"domain": [-25, 104.4], "nice": false, "zero": false},
  "axis": {"values": [-25,-16.6667,-8.3333,0,8.3333,16.6667,25,33.3333,41.6667,50,58.3333,66.6667,75,83.3333,91.6667,100], "labelExpr": "datum.value == 75 ? '%T' : (datum.value == 0 || datum.value == 50 || datum.value == 100) ? datum.label : ''", "grid": true, "gridOpacity": {"condition": {"test": "datum.value == 0 || datum.value == 50 || datum.value == 100", "value": 1}, "value": 0}, "tickSize": {"condition": {"test": "datum.value == 0 || datum.value == 50 || datum.value == 100 || datum.value == 75", "value": 18}, "value": 9}, "labelPadding": 3, "title": null}}
},
"layer": [
 {"data": {"name": "spectra"}, "transform": [{"filter": "datum.p == 4"}], "mark": {"type": "line", "color": "#000", "strokeWidth": 1.3, "interpolate": "monotone", "clip": true}},
 {"data": {"name": "peaks"}, "transform": [{"filter": "datum.p == 4"}], "mark": {"type": "text", "angle": 270, "align": "right", "baseline": "middle", "dx": -1, "font": "DejaVu Sans Condensed, Liberation Sans Narrow, Liberation Sans", "fontSize": 10, "color": "#000", "text": {"expr": "datum.label + '—'"}}}
]
},
{
"width": 921, "height": 282,
"title": {"text": "NAME: GERVAIS MANIZABAYO,\u00a0\u00a0\u00a0\u00a0\u00a0SAMPLE: G P-Q (KBr)", "orient": "bottom", "anchor": "start", "frame": "group", "offset": -1, "baseline": "alphabetic", "font": "Liberation Sans", "fontSize": 15, "fontWeight": "bold", "color": "#000"},
"encoding": {
 "x": {"field": "wn", "type": "quantitative", "scale": {"domain": [4000, 2000, 400], "range": [0, 354.6, 921], "nice": false, "zero": false},
  "axis": {"values": [4000,3916.667,3833.333,3750,3666.667,3583.333,3500,3416.667,3333.333,3250,3166.667,3083.333,3000,2916.667,2833.333,2750,2666.667,2583.333,2500,2416.667,2333.333,2250,2166.667,2083.333,2000,1958.333,1916.667,1875,1833.333,1791.667,1750,1708.333,1666.667,1625,1583.333,1541.667,1500,1458.333,1416.667,1375,1333.333,1291.667,1250,1208.333,1166.667,1125,1083.333,1041.667,1000,958.333,916.667,875,833.333,791.667,750,708.333,666.667,625,583.333,541.667,500,458.333,416.667], "format": "d", "labelExpr": "indexof([4000,3500,3000,2500,2000,1750,1500,1250,1000,750,500], datum.value) >= 0 ? datum.label : ''", "grid": true, "gridOpacity": {"condition": {"test": "indexof([3500,3000,2500,2000,1750,1500,1250,1000,750,500], datum.value) >= 0", "value": 1}, "value": 0}, "tickSize": 5, "labelPadding": 4, "title": "1/cm", "titleAnchor": "end", "titlePadding": -1}},
 "y": {"field": "t", "type": "quantitative", "scale": {"domain": [-25, 94.5], "nice": false, "zero": false},
  "axis": {"values": [-25,-16.6667,-8.3333,0,8.3333,16.6667,25,33.3333,41.6667,50,58.3333,66.6667,75,83.3333,91.6667], "labelExpr": "datum.value == 25 ? '%T' : (datum.value == 0 || datum.value == 50) ? datum.label : ''", "grid": true, "gridOpacity": {"condition": {"test": "datum.value == 0 || datum.value == 50", "value": 1}, "value": 0}, "tickSize": {"condition": {"test": "datum.value == 0 || datum.value == 50 || datum.value == 25", "value": 18}, "value": 9}, "labelPadding": 3, "title": null}}
},
"layer": [
 {"data": {"name": "spectra"}, "transform": [{"filter": "datum.p == 5"}], "mark": {"type": "line", "color": "#000", "strokeWidth": 1.3, "interpolate": "monotone", "clip": true}},
 {"data": {"name": "peaks"}, "transform": [{"filter": "datum.p == 5"}], "mark": {"type": "text", "angle": 270, "align": "right", "baseline": "middle", "dx": -1, "font": "DejaVu Sans Condensed, Liberation Sans Narrow, Liberation Sans", "fontSize": 10, "color": "#000", "text": {"expr": "datum.label + '—'"}}}
]
}
]
}
